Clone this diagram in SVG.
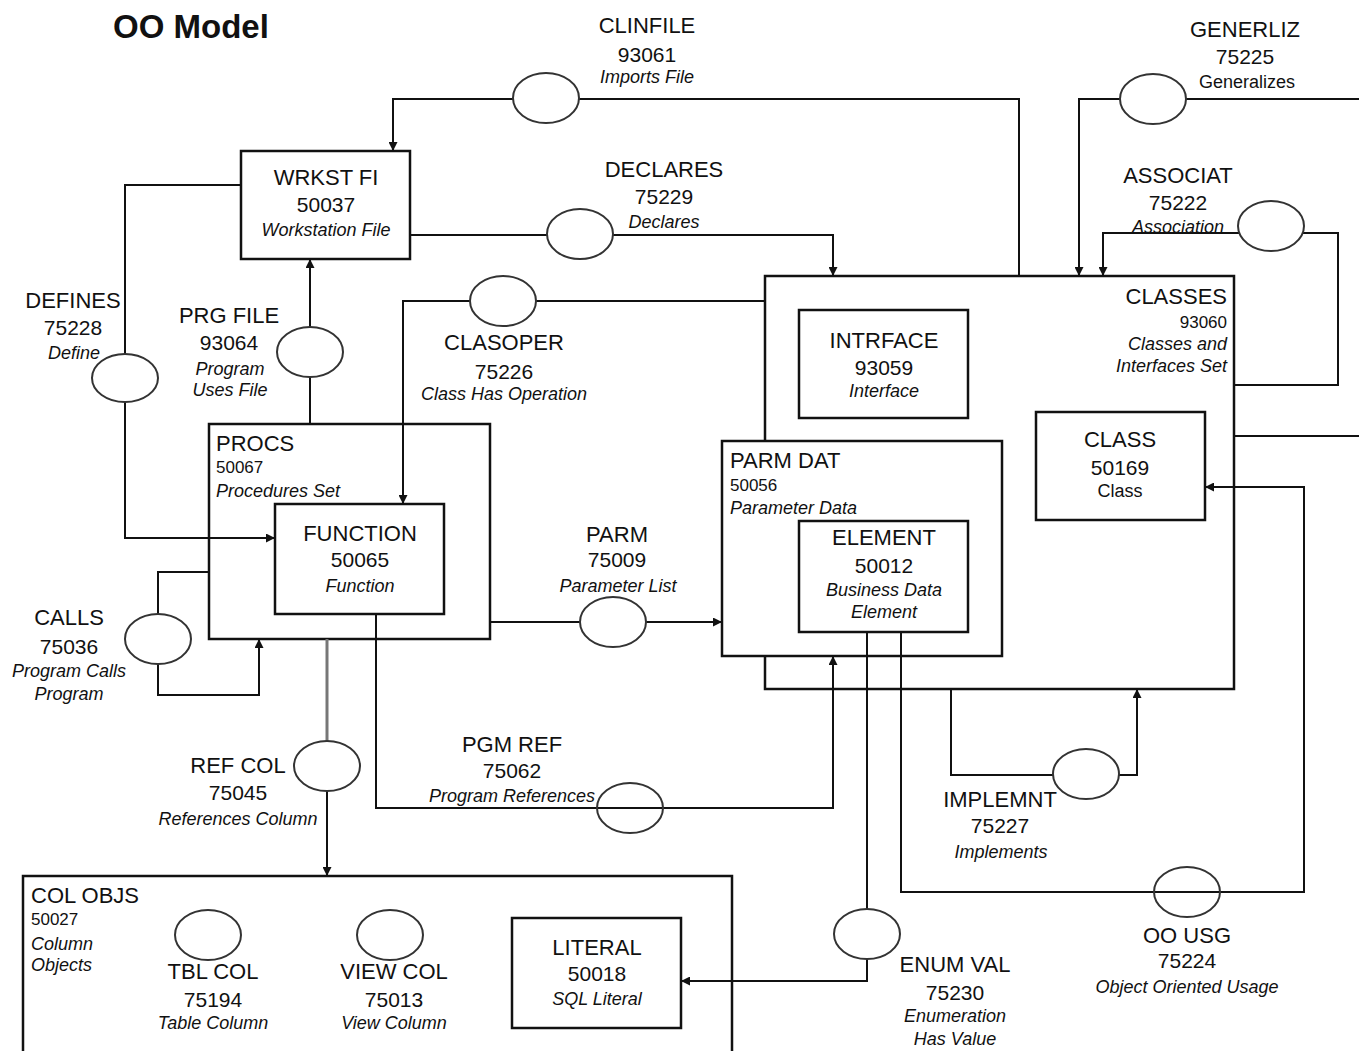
<svg xmlns="http://www.w3.org/2000/svg" width="1359" height="1051" viewBox="0 0 1359 1051">
<style>
text{font-family:"Liberation Sans",Arial,sans-serif;fill:#111}
.t{font-size:33px;font-weight:bold}
.n{font-size:22px}
.c{font-size:21px}
.cs{font-size:17px}
.d{font-size:18px;font-style:italic}
.du{font-size:18px}
.m{text-anchor:middle}
.r{text-anchor:end}
.box{fill:#fff;stroke:#111;stroke-width:2.5}
.ov{fill:none;stroke:#333;stroke-width:2}
.ln{fill:none;stroke:#111;stroke-width:2}
.ar{marker-end:url(#ah)}
</style>
<defs>
<marker id="ah" markerUnits="userSpaceOnUse" markerWidth="9" markerHeight="9" refX="9" refY="4.5" orient="auto">
<path d="M0,0 L9,4.5 L0,9 z" fill="#111"/>
</marker>
</defs>
<rect width="1359" height="1051" fill="#fff"/>
<text class="t" x="113" y="38">OO Model</text>

<g id="classes">
<rect class="box" x="765" y="276" width="469" height="413"/>
<text class="n r" x="1227" y="304">CLASSES</text>
<text class="cs r" x="1227" y="328">93060</text>
<text class="d r" x="1227" y="350">Classes and</text>
<text class="d r" x="1227" y="372">Interfaces Set</text>
</g>
<g id="intrface">
<rect class="box" x="799" y="310" width="169" height="108"/>
<text class="n m" x="884" y="348">INTRFACE</text>
<text class="c m" x="884" y="375">93059</text>
<text class="d m" x="884" y="397">Interface</text>
</g>
<g id="class">
<rect class="box" x="1036" y="412" width="169" height="108"/>
<text class="n m" x="1120" y="447">CLASS</text>
<text class="c m" x="1120" y="475">50169</text>
<text class="du m" x="1120" y="497">Class</text>
</g>
<g id="parmdat">
<rect class="box" x="722" y="441" width="280" height="215"/>
<text class="n" x="730" y="468">PARM DAT</text>
<text class="cs" x="730" y="491">50056</text>
<text class="d" x="730" y="514">Parameter Data</text>
</g>
<g id="element">
<rect class="box" x="799" y="521" width="169" height="111"/>
<text class="n m" x="884" y="545">ELEMENT</text>
<text class="c m" x="884" y="573">50012</text>
<text class="d m" x="884" y="596">Business Data</text>
<text class="d m" x="884" y="618">Element</text>
</g>
<g id="wrkstfi">
<rect class="box" x="241" y="151" width="169" height="108"/>
<text class="n m" x="326" y="185">WRKST FI</text>
<text class="c m" x="326" y="212">50037</text>
<text class="d m" x="326" y="236">Workstation File</text>
</g>
<g id="procs">
<rect class="box" x="209" y="424" width="281" height="215"/>
<text class="n" x="216" y="451">PROCS</text>
<text class="cs" x="216" y="473">50067</text>
<text class="d" x="216" y="497">Procedures Set</text>
</g>
<g id="function">
<rect class="box" x="275" y="504" width="169" height="110"/>
<text class="n m" x="360" y="541">FUNCTION</text>
<text class="c m" x="360" y="567">50065</text>
<text class="d m" x="360" y="592">Function</text>
</g>
<g id="colobjs">
<rect class="box" x="23" y="876" width="709" height="200"/>
<text class="n" x="31" y="903">COL OBJS</text>
<text class="cs" x="31" y="925">50027</text>
<text class="d" x="31" y="950">Column</text>
<text class="d" x="31" y="971">Objects</text>
</g>
<g id="literal">
<rect class="box" x="512" y="918" width="169" height="110"/>
<text class="n m" x="597" y="955">LITERAL</text>
<text class="c m" x="597" y="981">50018</text>
<text class="d m" x="597" y="1005">SQL Literal</text>
</g>

<g id="connectors">
<path class="ln ar" d="M513,99 H393 V151"/>
<path class="ln" d="M579,99 H1019 V276"/>
<path class="ln" d="M410,235 H547"/>
<path class="ln ar" d="M613,235 H833 V276"/>
<path class="ln ar" d="M470,301 H403 V504"/>
<path class="ln" d="M536,301 H765"/>
<path class="ln ar" d="M1120,99 H1079 V276"/>
<path class="ln" d="M1186,99 H1359"/>
<path class="ln ar" d="M1239,233 H1103 V276"/>
<path class="ln" d="M1303,233 H1338 V385 H1234"/>
<path class="ln" d="M1234,436 H1359"/>
<path class="ln" d="M241,185 H125 V354"/>
<path class="ln ar" d="M125,402 V538 H275"/>
<path class="ln ar" d="M310,327 V259"/>
<path class="ln" d="M310,377 V424"/>
<path class="ln" d="M158,614 V572 H209"/>
<path class="ln ar" d="M158,664 V695 H259 V639"/>
<path class="ln" d="M490,622 H580"/>
<path class="ln ar" d="M646,622 H722"/>
<path d="M327,639 V741" fill="none" stroke="#777" stroke-width="3"/>
<path class="ln ar" d="M327,791 V876"/>
<path class="ln ar" d="M376,614 V808 H833 V656"/>
<path class="ln" d="M951,689 V775 H1053"/>
<path class="ln ar" d="M1119,775 H1137 V689"/>
<path class="ln ar" d="M901,632 V892 H1304 V487 H1205"/>
<path class="ln" d="M867,632 V909"/>
<path class="ln ar" d="M867,959 V981 H681"/>
</g>

<g id="clinfile">
<ellipse class="ov" cx="546" cy="98" rx="33" ry="25"/>
<text class="n m" x="647" y="33">CLINFILE</text>
<text class="c m" x="647" y="62">93061</text>
<text class="d m" x="647" y="83">Imports File</text>
</g>
<g id="declares">
<ellipse class="ov" cx="580" cy="234" rx="33" ry="25"/>
<text class="n m" x="664" y="177">DECLARES</text>
<text class="c m" x="664" y="204">75229</text>
<text class="d m" x="664" y="228">Declares</text>
</g>
<g id="clasoper">
<ellipse class="ov" cx="503" cy="301" rx="33" ry="25"/>
<text class="n m" x="504" y="350">CLASOPER</text>
<text class="c m" x="504" y="379">75226</text>
<text class="d m" x="504" y="400">Class Has Operation</text>
</g>
<g id="generliz">
<ellipse class="ov" cx="1153" cy="99" rx="33" ry="25"/>
<text class="n m" x="1245" y="37">GENERLIZ</text>
<text class="c m" x="1245" y="64">75225</text>
<text class="du m" x="1247" y="88">Generalizes</text>
</g>
<g id="associat">
<ellipse class="ov" cx="1271" cy="226" rx="33" ry="25"/>
<text class="n m" x="1178" y="183">ASSOCIAT</text>
<text class="c m" x="1178" y="210">75222</text>
<text class="d m" x="1178" y="233">Association</text>
</g>
<g id="defines">
<ellipse class="ov" cx="125" cy="378" rx="33" ry="24"/>
<text class="n m" x="73" y="308">DEFINES</text>
<text class="c m" x="73" y="335">75228</text>
<text class="d m" x="74" y="359">Define</text>
</g>
<g id="prgfile">
<ellipse class="ov" cx="310" cy="352" rx="33" ry="25"/>
<text class="n m" x="229" y="323">PRG FILE</text>
<text class="c m" x="229" y="350">93064</text>
<text class="d m" x="230" y="375">Program</text>
<text class="d m" x="230" y="396">Uses File</text>
</g>
<g id="calls">
<ellipse class="ov" cx="158" cy="639" rx="33" ry="25"/>
<text class="n m" x="69" y="625">CALLS</text>
<text class="c m" x="69" y="654">75036</text>
<text class="d m" x="69" y="677">Program Calls</text>
<text class="d m" x="69" y="700">Program</text>
</g>
<g id="parm">
<ellipse class="ov" cx="613" cy="622" rx="33" ry="25"/>
<text class="n m" x="617" y="542">PARM</text>
<text class="c m" x="617" y="567">75009</text>
<text class="d m" x="618" y="592">Parameter List</text>
</g>
<g id="refcol">
<ellipse class="ov" cx="327" cy="766" rx="33" ry="25"/>
<text class="n m" x="238" y="773">REF COL</text>
<text class="c m" x="238" y="800">75045</text>
<text class="d m" x="238" y="825">References Column</text>
</g>
<g id="pgmref">
<ellipse class="ov" cx="630" cy="808" rx="33" ry="25"/>
<text class="n m" x="512" y="752">PGM REF</text>
<text class="c m" x="512" y="778">75062</text>
<text class="d m" x="512" y="802">Program References</text>
</g>
<g id="implemnt">
<ellipse class="ov" cx="1086" cy="774" rx="33" ry="25"/>
<text class="n m" x="1000" y="807">IMPLEMNT</text>
<text class="c m" x="1000" y="833">75227</text>
<text class="d m" x="1001" y="858">Implements</text>
</g>
<g id="oousg">
<ellipse class="ov" cx="1187" cy="892" rx="33" ry="25"/>
<text class="n m" x="1187" y="943">OO USG</text>
<text class="c m" x="1187" y="968">75224</text>
<text class="d m" x="1187" y="993">Object Oriented Usage</text>
</g>
<g id="enumval">
<ellipse class="ov" cx="867" cy="934" rx="33" ry="25"/>
<text class="n m" x="955" y="972">ENUM VAL</text>
<text class="c m" x="955" y="1000">75230</text>
<text class="d m" x="955" y="1022">Enumeration</text>
<text class="d m" x="955" y="1045">Has Value</text>
</g>
<g id="tblcol">
<ellipse class="ov" cx="208" cy="935" rx="33" ry="25"/>
<text class="n m" x="213" y="979">TBL COL</text>
<text class="c m" x="213" y="1007">75194</text>
<text class="d m" x="213" y="1029">Table Column</text>
</g>
<g id="viewcol">
<ellipse class="ov" cx="390" cy="935" rx="33" ry="25"/>
<text class="n m" x="394" y="979">VIEW COL</text>
<text class="c m" x="394" y="1007">75013</text>
<text class="d m" x="394" y="1029">View Column</text>
</g>
</svg>
